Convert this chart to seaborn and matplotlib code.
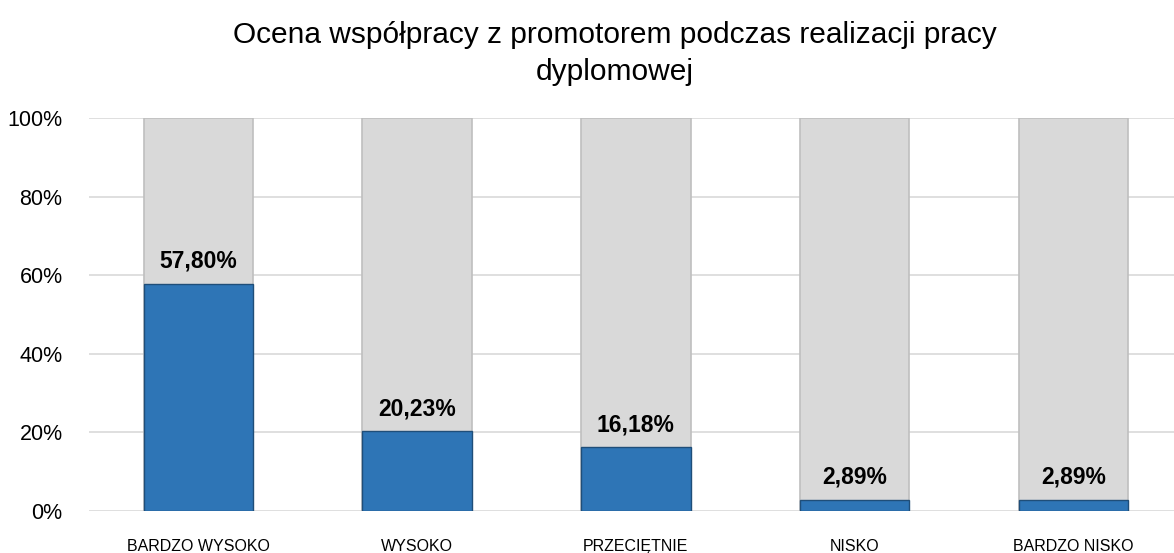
import pandas as pd
import seaborn as sns
import matplotlib.pyplot as plt
from matplotlib.ticker import PercentFormatter

# dane
kategorie = ["BARDZO WYSOKO", "WYSOKO", "PRZECIĘTNIE", "NISKO", "BARDZO NISKO"]
wartosci = [57.80, 20.23, 16.18, 2.89, 2.89]
calosc = [100, 100, 100, 100, 100]

df = pd.DataFrame({"Ocena": kategorie, "Procent": wartosci, "Calosc": calosc})

sns.set_style("white")
plt.rcParams['font.family'] = ['Liberation Sans', 'DejaVu Sans']
plt.rcParams['text.color'] = 'black'
plt.rcParams['xtick.color'] = 'black'
plt.rcParams['ytick.color'] = 'black'

fig = plt.figure(figsize=(11.74, 5.53), dpi=100)
ax = fig.add_axes([0.0758, 0.076, 0.9242, 0.7106])

# tło do 100%
sns.barplot(data=df, x="Ocena", y="Calosc", color="#D9D9D9", width=0.5,
            edgecolor="#BFBFBF", linewidth=1.2, ax=ax, zorder=2)
# wartości
sns.barplot(data=df, x="Ocena", y="Procent", color="#2E75B6", width=0.5,
            edgecolor="#1F4E79", linewidth=1.0, ax=ax, zorder=3, saturation=1)

for i, v in enumerate(wartosci):
    ax.annotate(f"{v:.2f}%".replace(".", ","), (i, v), xytext=(0, 8),
                textcoords="offset points", ha="center", va="bottom",
                fontsize=16.5, fontweight="bold", color="black", zorder=4)

ax.set_ylim(0, 100)
ax.set_xlim(-0.5, 4.46)
ax.set_yticks([0, 20, 40, 60, 80, 100])
ax.yaxis.set_major_formatter(PercentFormatter(decimals=0))
ax.grid(axis="y", color="#D9D9D9", linewidth=1.2, zorder=0)
ax.set_axisbelow(True)
ax.set_xlabel("")
ax.set_ylabel("")
ax.tick_params(axis="y", labelsize=15.5, length=0, pad=19)
ax.tick_params(axis="x", labelsize=11.5, length=0, pad=20)
for s in ax.spines.values():
    s.set_visible(False)

fig.suptitle("Ocena współpracy z promotorem podczas realizacji pracy\ndyplomowej",
             fontsize=21.5, y=0.962, va="top", x=0.524, linespacing=1.42,
             color="black")

plt.savefig("out.png", dpi=100)
